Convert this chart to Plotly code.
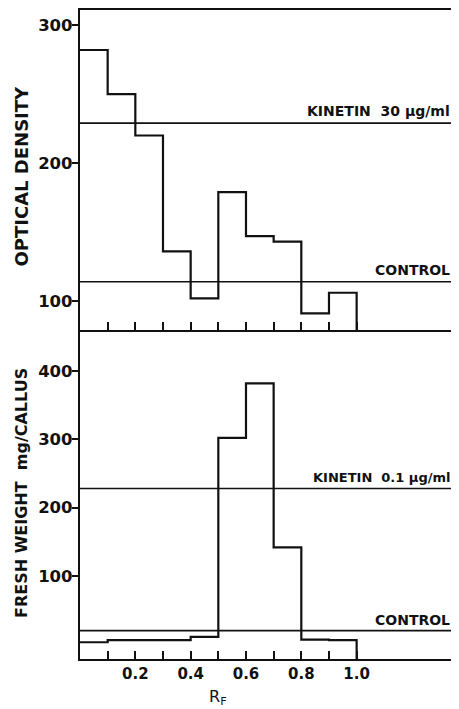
import plotly.graph_objects as go
from plotly.subplots import make_subplots

# ---- data ----
rf_bins = [0.0, 0.1, 0.2, 0.3, 0.4, 0.5, 0.6, 0.7, 0.8, 0.9]
bin_width = 0.1
optical_density = [282, 250, 220, 136, 102, 179, 147, 143, 91, 106]
fresh_weight = [3, 6, 6, 6, 11, 302, 382, 142, 7, 6]

od_kinetin_ref = 229      # KINETIN 30 µg/ml
od_control_ref = 114      # CONTROL
fw_kinetin_ref = 228      # KINETIN 0.1 µg/ml
fw_control_ref = 20       # CONTROL

x_major_vals = [0.2, 0.4, 0.6, 0.8, 1.0]
x_major_text = ["0.2", "0.4", "0.6", "0.8", "1.0"]
x_minor_vals = [0.1, 0.3, 0.5, 0.7, 0.9]
od_ticks = [100, 200, 300]
fw_ticks = [100, 200, 300, 400]

# ---- layout constants (page pixels; the page body has an 8px margin) ----
OFF = 8
W, H = 459 - OFF, 709 - OFF
ML, MR, MT, MB = 80 - OFF, 0, 10 - OFF, 50
od_range = [79, 311]
fw_range = [-21.5, 460]
x_range = [0, 1.37]
pw = W - ML - MR
ph = H - MT - MB
split = 329 / ph

FONT = "DejaVu Sans"
BLACK = "#111111"


def px_x(px):
    return (px - OFF - ML) / pw


def px_y(py):
    return (H - MB - (py - OFF)) / ph


def step_xy(values, ymin):
    end = rf_bins[-1] + bin_width
    xs = list(rf_bins) + [end, end]
    ys = list(values) + [values[-1], ymin]
    return xs, ys


fig = make_subplots(rows=2, cols=1, shared_xaxes=False, vertical_spacing=0)

xs, ys = step_xy(optical_density, od_range[0])
fig.add_trace(go.Scatter(x=xs, y=ys, mode="lines", line_shape="hv",
                         line=dict(color=BLACK, width=2.2), showlegend=False,
                         cliponaxis=False), row=1, col=1)
xs, ys = step_xy(fresh_weight, fw_range[0])
fig.add_trace(go.Scatter(x=xs, y=ys, mode="lines", line_shape="hv",
                         line=dict(color=BLACK, width=2.2), showlegend=False,
                         cliponaxis=False), row=2, col=1)

# reference lines
for yref, val in [("y", od_kinetin_ref), ("y", od_control_ref),
                  ("y2", fw_kinetin_ref), ("y2", fw_control_ref)]:
    fig.add_shape(type="line", xref="paper", x0=0, x1=1, yref=yref, y0=val, y1=val,
                  line=dict(color=BLACK, width=1.6), layer="above")

labels = [
    ("y", od_kinetin_ref, "KINETIN  30 µg/ml", 12, 14),
    ("y", od_control_ref, "CONTROL", 12, 14),
    ("y2", fw_kinetin_ref, "KINETIN  0.1 µg/ml", 11, 13),
    ("y2", fw_control_ref, "CONTROL", 11, 14),
]
for yref, val, txt, shift, size in labels:
    fig.add_annotation(xref="paper", x=px_x(452), xanchor="right",
                       yref=yref, y=val, yanchor="middle", yshift=shift,
                       text=txt, showarrow=False,
                       font=dict(family=FONT, size=size, color=BLACK, weight="bold"))

# axis titles
fig.add_annotation(xref="paper", yref="paper", x=px_x(21), y=px_y(176.5),
                   text="OPTICAL DENSITY", textangle=-90, showarrow=False,
                   xanchor="center", yanchor="middle",
                   font=dict(family=FONT, size=18, color=BLACK, weight="bold"))
fig.add_annotation(xref="paper", yref="paper", x=px_x(21), y=px_y(493),
                   text="FRESH WEIGHT  mg/CALLUS", textangle=-90, showarrow=False,
                   xanchor="center", yanchor="middle",
                   font=dict(family=FONT, size=16, color=BLACK, weight="bold"))
fig.add_annotation(xref="paper", yref="paper", x=px_x(218), y=px_y(697),
                   text="R<sub>F</sub>", showarrow=False,
                   xanchor="center", yanchor="middle",
                   font=dict(family=FONT, size=16, color=BLACK))

common_x = dict(range=x_range, tickmode="array", tickvals=x_major_vals,
                ticks="inside", ticklen=8, tickwidth=1.6, tickcolor=BLACK,
                minor=dict(tickmode="array", tickvals=x_minor_vals, ticks="inside",
                           ticklen=8, tickwidth=1.6, tickcolor=BLACK, showgrid=False),
                showline=True, linecolor=BLACK, linewidth=2.2,
                showgrid=False, zeroline=False, fixedrange=True)
fig.update_xaxes(**common_x, showticklabels=False, mirror=True, row=1, col=1)
fig.update_xaxes(**common_x, ticktext=x_major_text, showticklabels=True,
                 tickfont=dict(family=FONT, size=15, color=BLACK, weight="bold"),
                 row=2, col=1)

common_y = dict(ticks="outside", ticklen=6, tickwidth=2, tickcolor=BLACK,
                showline=True, linecolor=BLACK, linewidth=2.2,
                showgrid=False, zeroline=False, ticklabelstandoff=-4,
                tickfont=dict(family=FONT, size=16.5, color=BLACK, weight="bold"))
fig.update_yaxes(**common_y, range=od_range, tickvals=od_ticks, row=1, col=1)
fig.update_yaxes(**common_y, range=fw_range, tickvals=fw_ticks, row=2, col=1)

fig.update_layout(
    width=W, height=H,
    margin=dict(l=ML, r=MR, t=MT, b=MB),
    paper_bgcolor="white", plot_bgcolor="white",
    showlegend=False,
    yaxis=dict(domain=[split, 1]),
    yaxis2=dict(domain=[0, split]),
)

fig.write_html("out.html")
